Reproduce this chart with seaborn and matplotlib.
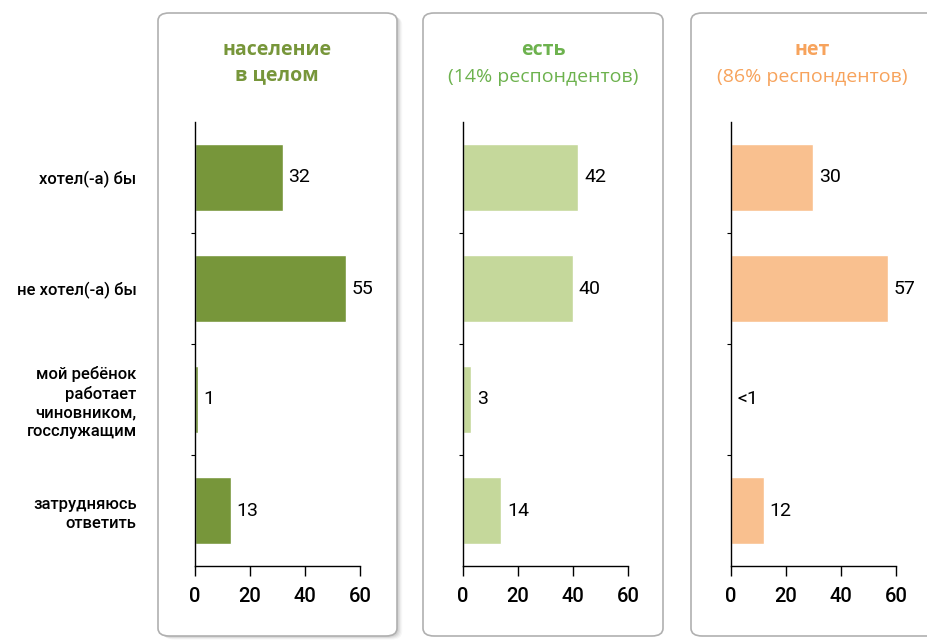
import matplotlib
matplotlib.use('Agg')
import matplotlib.pyplot as plt
from matplotlib.patches import FancyBboxPatch
import seaborn as sns
import pandas as pd

# данные
categories = ['хотел(-а) бы', 'не хотел(-а) бы',
              'мой ребёнок\nработает\nчиновником,\nгосслужащим',
              'затрудняюсь\nответить']
vals_all = [32, 55, 1, 13]
vals_yes = [42, 40, 3, 14]
vals_no = [30, 57, 0.5, 12]
labels_all = ['32', '55', '1', '13']
labels_yes = ['42', '40', '3', '14']
labels_no = ['30', '57', '<1', '12']
xticks = [0, 20, 40, 60]

sns.set_style('white')
plt.rcParams['font.family'] = ['Open Sans', 'DejaVu Sans']
plt.rcParams['text.color'] = 'black'
plt.rcParams['xtick.color'] = 'black'
plt.rcParams['ytick.color'] = 'black'
narrow = ['Roboto', 'DejaVu Sans']

fig = plt.figure(figsize=(9.28, 6.4), dpi=100)

# рамки панелей (y от 13 до 636 px)
y0 = 1 - 636 / 640
h = (636 - 13) / 640

def box(x0, x1, shadow=False):
    if shadow:
        for i, a in enumerate([0.06, 0.05, 0.04, 0.03]):
            sh = FancyBboxPatch((x0 / 928 + 0.002 + i * 0.0012, y0 - 0.002 - i * 0.0012),
                                (x1 - x0) / 928, h,
                                boxstyle='round,pad=0,rounding_size=0.012',
                                transform=fig.transFigure, facecolor='black',
                                edgecolor='none', alpha=a, zorder=-3)
            fig.patches.append(sh)
    b = FancyBboxPatch((x0 / 928, y0), (x1 - x0) / 928, h,
                       boxstyle='round,pad=0,rounding_size=0.012',
                       transform=fig.transFigure, facecolor='white',
                       edgecolor='#b0b0b0', linewidth=1.2, zorder=-2)
    fig.patches.append(b)

box(158, 397, shadow=True)
box(423, 663)
box(691, 960)

panels = [
    (195, vals_all, labels_all, '#77963a'),
    (463, vals_yes, labels_yes, '#c5d89b'),
    (731, vals_no, labels_no, '#f9c08f'),
]

for i, (x0, vals, labs, color) in enumerate(panels):
    ax = fig.add_axes([x0 / 928, 1 - 566 / 640, 165 / 928, 444 / 640])
    ax.set_facecolor('none')
    df = pd.DataFrame({'cat': categories, 'val': vals})
    pal = [color] * 4
    if i == 2:
        pal[2] = '#8a5a3a'
    sns.barplot(data=df, x='val', y='cat', hue='cat', palette=pal, legend=False,
                orient='h', width=0.6, ax=ax, saturation=1)
    ax.set_xlim(0, 60)
    ax.set_ylim(3.5, -0.5)
    ax.set_xticks(xticks)
    ax.set_xticklabels([str(t) for t in xticks], fontsize=14.5, family=narrow,
                       fontweight='medium')
    ax.set_xlabel('')
    ax.set_ylabel('')
    ax.set_yticks([0.5, 1.5, 2.5], minor=True)
    ax.tick_params(axis='y', which='minor', left=True, length=3, width=0.8)
    ax.tick_params(axis='x', bottom=True, length=7, width=1, pad=8)
    if i == 0:
        ax.set_yticks(range(4))
        ax.set_yticklabels(categories, fontsize=12, ha='right', family=narrow,
                           fontweight='medium', multialignment='right',
                           linespacing=1.3)
        ax.tick_params(axis='y', which='major', length=0, pad=42)
    else:
        ax.set_yticks([])
    for s in ['top', 'right']:
        ax.spines[s].set_visible(False)
    for s in ['left', 'bottom']:
        ax.spines[s].set_color('black')
        ax.spines[s].set_linewidth(1)
    for j, (v, t) in enumerate(zip(vals, labs)):
        ax.text(v + 2, j, t, va='center', ha='left', fontsize=14, family=narrow)

# заголовки
fig.text(277 / 928, 1 - 50 / 640, 'население', ha='center', va='center',
         fontsize=14, fontweight='bold', color='#77963a')
fig.text(277 / 928, 1 - 75 / 640, 'в целом', ha='center', va='center',
         fontsize=14, fontweight='bold', color='#77963a')
fig.text(543 / 928, 1 - 50 / 640, 'есть', ha='center', va='center',
         fontsize=14, fontweight='bold', color='#6db24e')
fig.text(543 / 928, 1 - 77 / 640, '(14% респондентов)', ha='center', va='center',
         fontsize=14, color='#6db24e')
fig.text(812 / 928, 1 - 50 / 640, 'нет', ha='center', va='center',
         fontsize=14, fontweight='bold', color='#f7a35c')
fig.text(812 / 928, 1 - 77 / 640, '(86% респондентов)', ha='center', va='center',
         fontsize=14, color='#f7a35c')

plt.savefig('out.png', dpi=100)
